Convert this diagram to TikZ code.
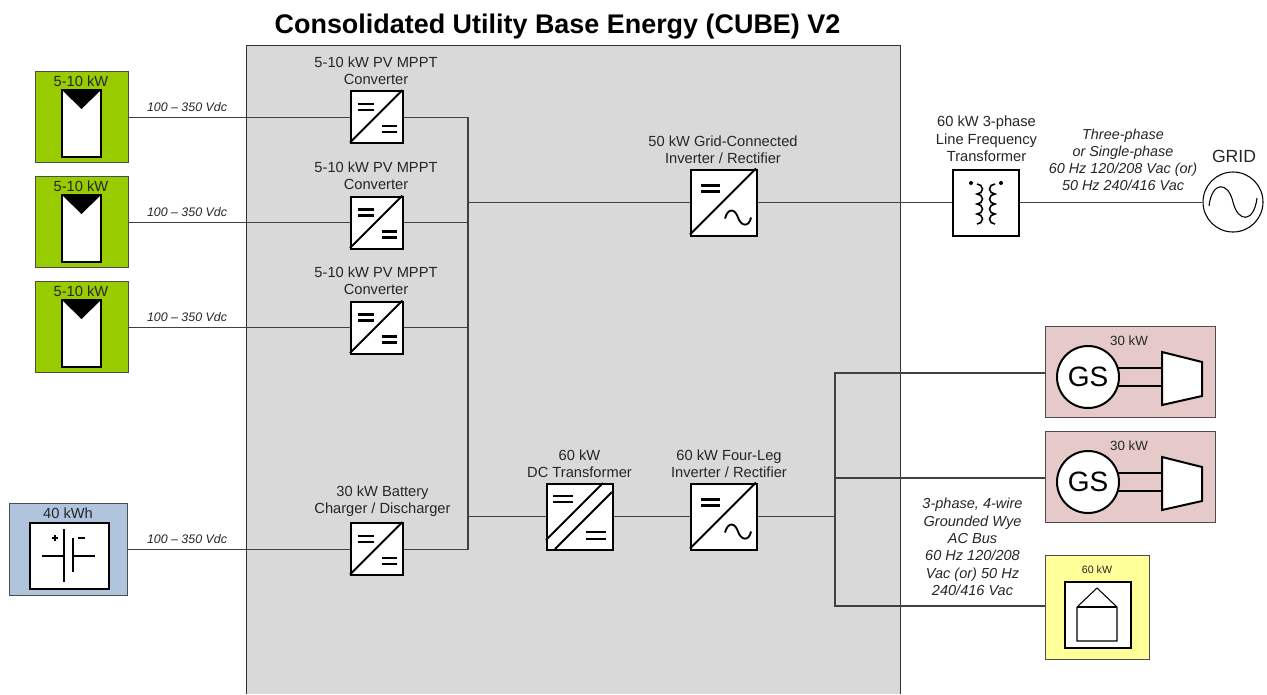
\documentclass[tikz,border=0pt]{standalone}
\usepackage{fontspec}
\setmainfont{Liberation Sans}
\definecolor{genpink}{HTML}{E6CACA}
\definecolor{pvgreen}{HTML}{99CC00}
\definecolor{batblue}{HTML}{B0C4DE}
\definecolor{loadyellow}{HTML}{FFFF99}
\newcommand{\pvbox}[2]{%
  \node[outerbox,fill=pvgreen,minimum width=69.75pt,minimum height=68.25pt] (#1) at (35,#2) {};
  \node[lbl] at (81,#2+10) {5-10 kW};
  \fill[white,draw=black,line width=1.5pt] (62,#2+19) rectangle (101,#2+86);
  \fill[black] (62,#2+19) -- (101,#2+19) -- (81.5,#2+38) -- cycle;
}
\newcommand{\conv}[3]{% name, x, y
  \node[blk,minimum width=39.25pt,minimum height=39.25pt] (#1) at (#2,#3) {};
  \draw[black,line width=1.5pt] (#2,#3+52.5) -- (#2+52.5,#3);
  \draw[eqline] (#2+8,#3+14) -- (#2+24,#3+14) (#2+8,#3+20) -- (#2+24,#3+20);
  \draw[eqline] (#2+32,#3+36) -- (#2+47,#3+36) (#2+32,#3+42) -- (#2+47,#3+42);
}
\newcommand{\inv}[3]{% name, x, y
  \node[blk] (#1) at (#2,#3) {};
  \draw[black,line width=1.5pt] (#2,#3+66) -- (#2+66,#3);
  \draw[eqline] (#2+11,#3+17) -- (#2+30,#3+17) (#2+11,#3+23) -- (#2+30,#3+23);
  \draw[black,line width=1.4pt] (#2+35,#3+50) .. controls (#2+38,#3+39) and (#2+45,#3+40) .. (#2+48,#3+49) .. controls (#2+51,#3+58) and (#2+59,#3+59) .. (#2+61,#3+49);
}
\newcommand{\gen}[2]{%
  \node[outerbox,fill=genpink,minimum width=127.5pt,minimum height=68.25pt] (#1) at (1045,#2) {};
  \node[lbl,font=\fontsize{10}{12}\selectfont] at (1129,#2+15) {30 kW};
  \draw[black,line width=1.5pt] (1118,#2+42) -- (1162,#2+42) (1118,#2+60) -- (1162,#2+60);
  \node[circle,draw=black,fill=white,line width=1.5pt,minimum size=46.5pt,inner sep=0pt,font=\fontsize{21}{23}\selectfont] (#1c) at (1088,#2+51) {GS};
  \draw[fill=white,line width=1.5pt] (1162,#2+26) -- (1202,#2+36) -- (1202,#2+70) -- (1162,#2+79) -- cycle;
}
\begin{document}
\begin{tikzpicture}[x=0.75pt,y=-0.75pt,
  lbl/.style={inner sep=0pt,align=center,font=\fontsize{11}{13}\selectfont,text=black!85},
  itl/.style={inner sep=0pt,align=center,font=\fontsize{10.8}{12.75}\selectfont\itshape,text=black!85},
  vdc/.style={inner sep=0pt,font=\fontsize{9.3}{11}\selectfont\itshape,text=black!85},
  wire/.style={draw=black!75,line width=1pt},
  eqline/.style={draw=black,line width=1.6pt},
  outerbox/.style={draw=black!70,line width=0.7pt,inner sep=0pt,anchor=north west},
  blk/.style={draw=black,fill=white,line width=1.5pt,minimum width=49.5pt,minimum height=49.5pt,inner sep=0pt,anchor=north west}]
\useasboundingbox (0,0) rectangle (1267,694);
\fill[white] (0,0) rectangle (1267,694);
\node[inner sep=0pt,font=\bfseries\fontsize{20.2}{24}\selectfont] (title) at (557.5,27) {Consolidated Utility Base Energy (CUBE) V2};
\path[fill=black!15,draw=black!80,line width=0.7pt] (246,694) -- (246,45) -- (900,45) -- (900,694);
\coordinate (busT) at (468,116.5);
\coordinate (acT) at (835,373);
\coordinate (acB) at (835,606);
\coordinate (acM) at (835,516);
\pvbox{pvA}{71}
\pvbox{pvB}{176}
\pvbox{pvC}{281}
\conv{cA}{350}{90}
\conv{cB}{350}{195.5}
\conv{cC}{350}{300.5}
\conv{cD}{350}{522}
\node[outerbox,fill=batblue,minimum width=88.5pt,minimum height=69pt] (bat) at (9,503) {};
\node[lbl] at (68,513) {40 kWh};
\node[draw=black,fill=white,line width=1.5pt,minimum width=59.25pt,minimum height=49.5pt,inner sep=0pt,anchor=north west] (batin) at (29,522) {};
\draw[black,line width=1.2pt] (42,556) -- (64,556) (64,529) -- (64,582) (73,538) -- (73,572) (73,556) -- (95,556);
\draw[black,line width=1.4pt] (52,538) -- (58,538) (55,535) -- (55,541) (78,538) -- (85,538);
\inv{iG}{690}{168.5}
\inv{iF}{690}{482.5}
\node[blk] (dct) at (546,482.5) {};
\draw[black,line width=1.5pt] (546,540) -- (603,483) (555,549) -- (612,492);
\draw[eqline] (553,496) -- (573,496) (553,502) -- (573,502) (586,532) -- (606,532) (586,539) -- (606,539);
\node[blk] (tr) at (952,168.5) {};
\fill[black] (971,183) circle (2) (1001,183) circle (2);
\draw[black,line width=1.2pt] (977,184) arc (-90:90:5.5 and 5) arc (-90:90:5.5 and 5) arc (-90:90:5.5 and 5) arc (-90:90:5.5 and 5);
\draw[black,line width=1.2pt] (995,184) arc (270:90:5.5 and 5) arc (270:90:5.5 and 5) arc (270:90:5.5 and 5) arc (270:90:5.5 and 5);
\node[circle,draw=black,fill=white,line width=0.8pt,minimum size=45pt,inner sep=0pt] (grid) at (1233,202) {};
\draw[black,line width=0.8pt] (1209,206) .. controls (1212,181) and (1228,181) .. (1233,202) .. controls (1238,223) and (1254,223) .. (1257,198);
\node[lbl,font=\fontsize{13.2}{15}\selectfont] at (1234,156) {GRID};
\gen{gA}{326}
\gen{gB}{431}
\node[outerbox,fill=loadyellow,minimum width=78pt,minimum height=78pt] (load) at (1045,555) {};
\node[lbl,font=\fontsize{8}{10}\selectfont] at (1097,570) {60 kW};
\node[draw=black,fill=white,line width=1.5pt,minimum width=49.5pt,minimum height=49.5pt,inner sep=0pt,anchor=north west] (loadin) at (1064,581) {};
\draw[black,line width=0.8pt] (1077,607) -- (1097,588) -- (1117,607) -- (1117,641) -- (1077,641) -- cycle;
\draw[black,line width=0.8pt] (1077,607) -- (1117,607);
\draw[wire] (cA.west -| pvA.east) -- (cA.west);
\draw[wire] (cB.west -| pvB.east) -- (cB.west);
\draw[wire] (cC.west -| pvC.east) -- (cC.west);
\draw[wire] (cD.west -| bat.east) -- (cD.west);
\draw[wire] (cA.east) -- (cA.east -| busT) -- (cD.east -| busT) -- (cD.east);
\draw[wire] (cB.east) -- (cB.east -| busT);
\draw[wire] (cC.east) -- (cC.east -| busT);
\draw[wire] (iG.west -| busT) -- (iG.west);
\draw[wire] (iG.east) -- (tr.west);
\draw[wire] (tr.east) -- (grid.west |- tr.east);
\draw[wire] (dct.west -| busT) -- (dct.west);
\draw[wire] (dct.east) -- (iF.west);
\draw[wire] (iF.east) -- (iF.east -| acM);
\draw[wire] (gA.west |- 0,373) -- (acT) -- (acB) -- (load.west |- acB);
\draw[wire] (acT |- 0,478) -- (gB.west |- 0,478);
\foreach \y in {107,212,317,539}
  \node[vdc] at (187,\y) {100 – 350 Vdc};
\node[lbl] at (376,71) {5-10 kW PV MPPT\\Converter};
\node[lbl] at (376,175.5) {5-10 kW PV MPPT\\Converter};
\node[lbl] at (376,280.5) {5-10 kW PV MPPT\\Converter};
\node[lbl] at (382.5,501) {30 kW Battery\\Charger / Discharger};
\node[lbl] at (579.5,464) {60 kW\\DC Transformer};
\node[lbl] at (729,464) {60 kW Four-Leg\\Inverter / Rectifier};
\node[lbl] at (723,149.5) {50 kW Grid-Connected\\Inverter / Rectifier};
\node[lbl] at (986.5,139) {60 kW 3-phase\\Line Frequency\\Transformer};
\node[itl] at (1123,160) {Three-phase\\or Single-phase\\60 Hz 120/208 Vac (or)\\50 Hz 240/416 Vac};
\node[itl,font=\fontsize{10.9}{13}\selectfont\itshape] at (972.5,547) {3-phase, 4-wire\\Grounded Wye\\AC Bus\\60 Hz 120/208\\Vac (or) 50 Hz\\240/416 Vac};
\end{tikzpicture}
\end{document}
